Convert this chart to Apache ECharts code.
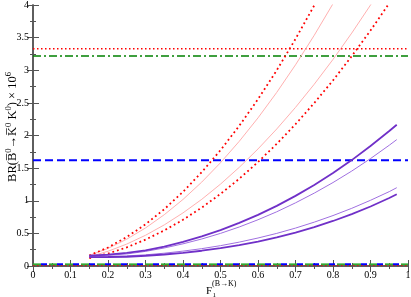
<!DOCTYPE html>
<html><head><meta charset="utf-8">
<script src="https://cdn.jsdelivr.net/npm/echarts@6/dist/echarts.min.js"></script>
<style>html,body{margin:0;padding:0;background:#fff}#c{width:411px;height:297px}</style>
</head><body><div id="c"></div>
<script>
const xGrid = [0.15,0.2,0.25,0.3,0.35,0.4,0.45,0.5,0.55,0.6,0.65,0.7,0.75,0.8,0.85,0.9,0.95,0.97];
const redUpper  = [0.16,0.284,0.444,0.639,0.870,1.136,1.438,1.775,2.148,2.556,3.000,3.479,3.994,4.544,null,null,null,null];
const pinkUpper = [0.161,0.27,0.411,0.583,0.786,1.02,1.286,1.583,1.911,2.27,2.661,3.083,3.536,4.02,4.536,null,null,null];
const pinkLower = [0.14,0.226,0.336,0.471,0.630,0.814,1.022,1.255,1.512,1.794,2.100,2.431,2.786,3.166,3.570,3.999,4.452,null];
const redLower  = [0.119,0.191,0.286,0.404,0.545,0.708,0.895,1.105,1.337,1.593,1.872,2.173,2.498,2.845,3.216,3.609,4.026,4.198];
const purpleThickUpper = [0.16,0.175,0.20,0.24,0.298,0.369,0.453,0.550,0.660,0.784,0.922,1.075,1.242,1.425,1.623,1.838,2.068,2.164];
const purpleThinUpper  = [0.155,0.165,0.185,0.224,0.276,0.340,0.414,0.500,0.598,0.709,0.831,0.968,1.117,1.279,1.455,1.646,1.851,1.937];
const purpleThinLower  = [0.145,0.15,0.155,0.171,0.196,0.228,0.266,0.312,0.366,0.429,0.500,0.581,0.672,0.773,0.884,1.007,1.140,1.200];
const purpleThickLower = [0.135,0.138,0.142,0.157,0.176,0.202,0.234,0.273,0.320,0.375,0.439,0.512,0.596,0.690,0.795,0.912,1.042,1.100];
const hRed = 3.33, hGreen = 3.22, hBlue = 1.62, hGreenLow = 0.025, hBlueLow = 0.025, hRedLow = 0.004;
const xSpan = [0, 1];

function pairs(ys){ return xGrid.map((x,i)=>[x, ys[i]]); }
function hline(v){ return xSpan.map(x=>[x,v]); }

const chart = echarts.init(document.getElementById('c'));
const serif = 'Liberation Serif';
function curve(data,color,width,type){
  return {type:'line',data:pairs(data),showSymbol:false,symbol:'none',clip:true,connectNulls:false,
    lineStyle:{color:color,width:width,type:type||'solid',cap:'butt'},z:3,animation:false};
}
function hl(v,color,width,type,offset){
  return {type:'line',data:hline(v),showSymbol:false,symbol:'none',clip:true,
    lineStyle:{color:color,width:width,type:type,dashOffset:offset||0},z:2,animation:false};
}
const axisCommon = {
  min:0,max:1,interval:0.1,
  axisLine:{show:true,lineStyle:{color:'#555',width:1.5}},
  axisTick:{show:true,inside:true,length:6,lineStyle:{color:'#555'}},
  minorTick:{show:true,splitNumber:2,length:3,lineStyle:{color:'#555'}},
  splitLine:{show:false}
};
chart.setOption({
  animation:false,
  grid:{left:33,right:3,top:5,bottom:31,containLabel:false,outerBoundsMode:'none'},
  xAxis:[
    Object.assign({type:'value',position:'bottom',
      axisLabel:{color:'#000',fontFamily:serif,fontSize:10,margin:4,
        formatter:v=>(Math.abs(v-Math.round(v))<1e-9?String(Math.round(v)):v.toFixed(1))}},axisCommon),
    Object.assign({type:'value',position:'top',axisLabel:{show:false}},axisCommon)
  ],
  yAxis:[
    {type:'value',min:0,max:4,interval:0.5,position:'left',
      axisLine:{show:true,lineStyle:{color:'#555',width:1.5}},
      axisTick:{show:true,inside:true,length:6,lineStyle:{color:'#555'}},
      minorTick:{show:true,splitNumber:2,length:3,lineStyle:{color:'#555'}},
      splitLine:{show:false},
      axisLabel:{color:'#000',fontFamily:serif,fontSize:10,margin:4,formatter:v=>String(v)}
    },
    {type:'value',min:0,max:4,interval:0.5,position:'right',
      axisLine:{show:true,lineStyle:{color:'#555',width:1.5}},
      axisTick:{show:true,inside:true,length:6,lineStyle:{color:'#555'}},
      minorTick:{show:true,splitNumber:2,length:3,lineStyle:{color:'#555'}},
      splitLine:{show:false},axisLabel:{show:false}}
  ],
  graphic:[
    {type:'text',x:206,y:291,style:{text:'F',font:'11px "Liberation Serif"',fill:'#000',verticalAlign:'middle'}},
    {type:'text',x:212.5,y:295,style:{text:'1',font:'7px "Liberation Serif"',fill:'#000',verticalAlign:'middle'}},
    {type:'text',x:212,y:283.5,style:{text:'(B\u2192K)',font:'8px "Liberation Serif"',fill:'#000',verticalAlign:'middle'}},
    {type:'text',x:13,y:127,rotation:Math.PI/2,
      style:{text:'{t|BR(B\u0305}{s|0}{t|\u2192K\u0305}{s|0}{t| K}{s|0}{t|) \u00d7 10}{s|6}',
        align:'center',verticalAlign:'middle',
        rich:{t:{fontFamily:serif,fontSize:12.5,fill:'#000'},
              s:{fontFamily:serif,fontSize:8.5,fill:'#000',verticalAlign:'top',padding:[0,0,8,0]}}}}
  ],
  series:[
    hl(hRed,'#ff0000',1.5,[1.5,2.5]),
    hl(hGreen,'#008000',1.5,[8,3,2,3]),
    hl(hBlue,'#0000ff',2,[8,4]),
    hl(hGreenLow,'#33aa33',2,[8,8]),
    hl(hBlueLow,'#0000ff',2,[6,10],-8),
    hl(hRedLow,'#ff0000',1.2,[1.5,2.5]),
    curve(pinkUpper,'#ffb0b0',1),
    curve(pinkLower,'#ffb0b0',1),
    curve(redUpper,'#ff0000',1.8,[1.8,3]),
    curve(redLower,'#ff0000',1.8,[1.8,3]),
    curve(purpleThinUpper,'#a070e0',1),
    curve(purpleThinLower,'#a070e0',1),
    curve(purpleThickUpper,'#7030c8',1.8),
    curve(purpleThickLower,'#7030c8',1.8)
  ]
});
</script></body></html>
